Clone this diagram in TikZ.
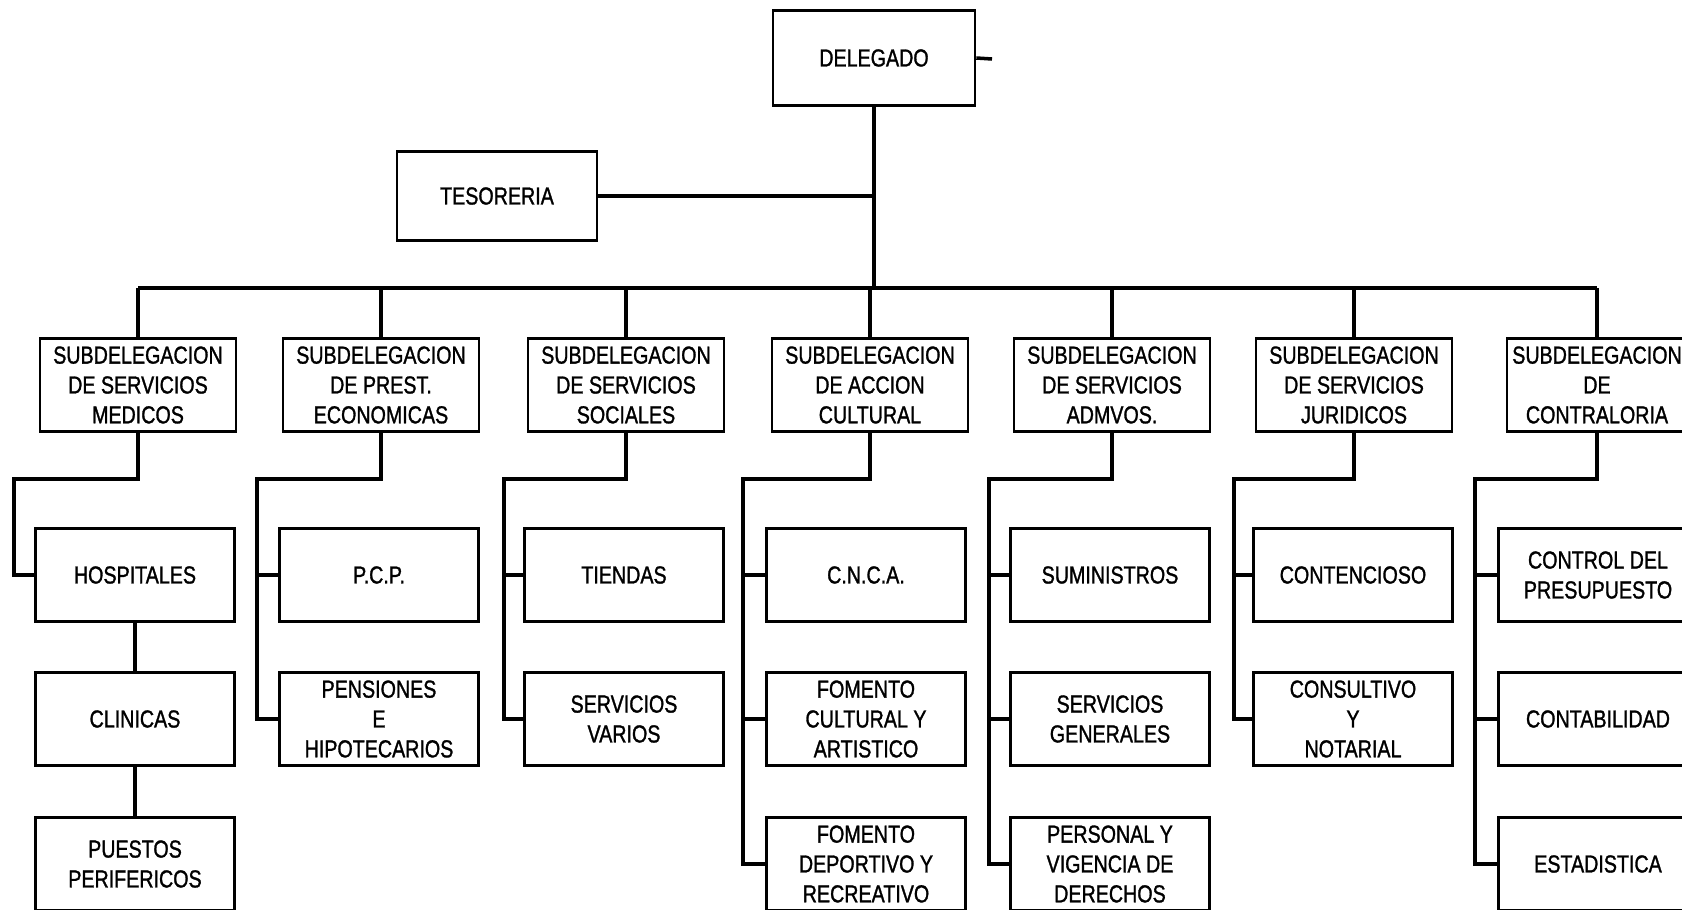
\documentclass[tikz,border=0pt]{standalone}
\usepackage{fontspec}
\newfontfamily\orgfont[FakeStretch=0.8, FakeBold=1.2]{Liberation Sans}
\usepackage{tikz}

\begin{document}
\begin{tikzpicture}[x=0.02cm, y=-0.02cm,
            box/.style = {shape=rectangle, draw, line width=1.5pt, align=center,
                          inner sep=0pt, font=\orgfont\fontsize{14}{17}\selectfont},
            sub/.style = {box, minimum width=3.92cm, minimum height=1.86cm},
            leaf/.style = {box, minimum width=3.98cm, minimum height=1.86cm},
            link/.style = {line width=2pt},
            bus/.style = {line width=2.8pt}]
    \useasboundingbox (0,0) rectangle (1682,909);
    \clip (0,0) rectangle (1682,909);
    % top
    \node[box, minimum width=4.04cm, minimum height=1.9cm] (delegado) at (874,58) {DELEGADO};
    \node[box, minimum width=4cm, minimum height=1.78cm] (tesoreria) at (497,196) {TESORERIA};
    \coordinate (tick) at (992,59);
    \coordinate (bus) at (0,288);
    % subdelegaciones
    \node[sub] (sdmed) at (138,385) {SUBDELEGACION\\DE SERVICIOS\\MEDICOS};
    \node[sub] (sdprest) at (381,385) {SUBDELEGACION\\DE PREST.\\ECONOMICAS};
    \node[sub] (sdsoc) at (626,385) {SUBDELEGACION\\DE SERVICIOS\\SOCIALES};
    \node[sub] (sdcult) at (870,385) {SUBDELEGACION\\DE ACCION\\CULTURAL};
    \node[sub] (sdadm) at (1112,385) {SUBDELEGACION\\DE SERVICIOS\\ADMVOS.};
    \node[sub] (sdjur) at (1354,385) {SUBDELEGACION\\DE SERVICIOS\\JURIDICOS};
    \node[sub, minimum width=3.6cm] (sdcon) at (1597,385) {SUBDELEGACION\\DE\\CONTRALORIA};
    % departamentos
    \node[leaf] (hosp) at (135,575) {HOSPITALES};
    \node[leaf] (clin) at (135,719) {CLINICAS};
    \node[leaf] (puestos) at (135,864) {PUESTOS\\PERIFERICOS};
    \node[leaf] (pcp) at (379,575) {P.C.P.};
    \node[leaf] (pens) at (379,719) {PENSIONES\\E\\HIPOTECARIOS};
    \node[leaf] (tiendas) at (624,575) {TIENDAS};
    \node[leaf] (varios) at (624,719) {SERVICIOS\\VARIOS};
    \node[leaf] (cnca) at (866,575) {C.N.C.A.};
    \node[leaf] (fcult) at (866,719) {FOMENTO\\CULTURAL Y\\ARTISTICO};
    \node[leaf] (fdep) at (866,864) {FOMENTO\\DEPORTIVO Y\\RECREATIVO};
    \node[leaf] (sumin) at (1110,575) {SUMINISTROS};
    \node[leaf] (sgen) at (1110,719) {SERVICIOS\\GENERALES};
    \node[leaf] (personal) at (1110,864) {PERSONAL Y\\VIGENCIA DE\\DERECHOS};
    \node[leaf] (conten) at (1353,575) {CONTENCIOSO};
    \node[leaf] (consul) at (1353,719) {CONSULTIVO\\Y\\NOTARIAL};
    \node[leaf] (presup) at (1598,575) {CONTROL DEL\\PRESUPUESTO};
    \node[leaf] (contab) at (1598,719) {CONTABILIDAD};
    \node[leaf] (estad) at (1598,864) {ESTADISTICA};
    % lane corners
    \coordinate (lmed) at (14,479);
    \coordinate (lprest) at (257,479);
    \coordinate (lsoc) at (504,479);
    \coordinate (lcult) at (743,479);
    \coordinate (ladm) at (989,479);
    \coordinate (ljur) at (1234,479);
    \coordinate (lcon) at (1475,479);
    % connectors
    \draw[link] (delegado.east) -- (tick);
    \draw[link] (delegado.south) -- (delegado.south |- bus);
    \draw[link] (tesoreria.east) -- (tesoreria.east -| delegado.south);
    \draw[bus] (sdmed.north |- bus) -- (sdcon.north |- bus);
    \foreach \s in {sdmed,sdprest,sdsoc,sdcult,sdadm,sdjur,sdcon}
        \draw[link] (\s.north) -- (\s.north |- bus);
    \draw[link] (sdmed.south) |- (lmed) |- (hosp.west);
    \draw[link] (hosp.south) -- (clin.north);
    \draw[link] (clin.south) -- (puestos.north);
    \draw[link] (sdprest.south) |- (lprest) |- (pens.west);
    \draw[link] (lprest |- pcp.west) -- (pcp.west);
    \draw[link] (sdsoc.south) |- (lsoc) |- (varios.west);
    \draw[link] (lsoc |- tiendas.west) -- (tiendas.west);
    \draw[link] (sdcult.south) |- (lcult) |- (fdep.west);
    \foreach \c in {cnca,fcult}
        \draw[link] (lcult |- \c.west) -- (\c.west);
    \draw[link] (sdadm.south) |- (ladm) |- (personal.west);
    \foreach \c in {sumin,sgen}
        \draw[link] (ladm |- \c.west) -- (\c.west);
    \draw[link] (sdjur.south) |- (ljur) |- (consul.west);
    \draw[link] (ljur |- conten.west) -- (conten.west);
    \draw[link] (sdcon.south) |- (lcon) |- (estad.west);
    \foreach \c in {presup,contab}
        \draw[link] (lcon |- \c.west) -- (\c.west);
\end{tikzpicture}
\end{document}
